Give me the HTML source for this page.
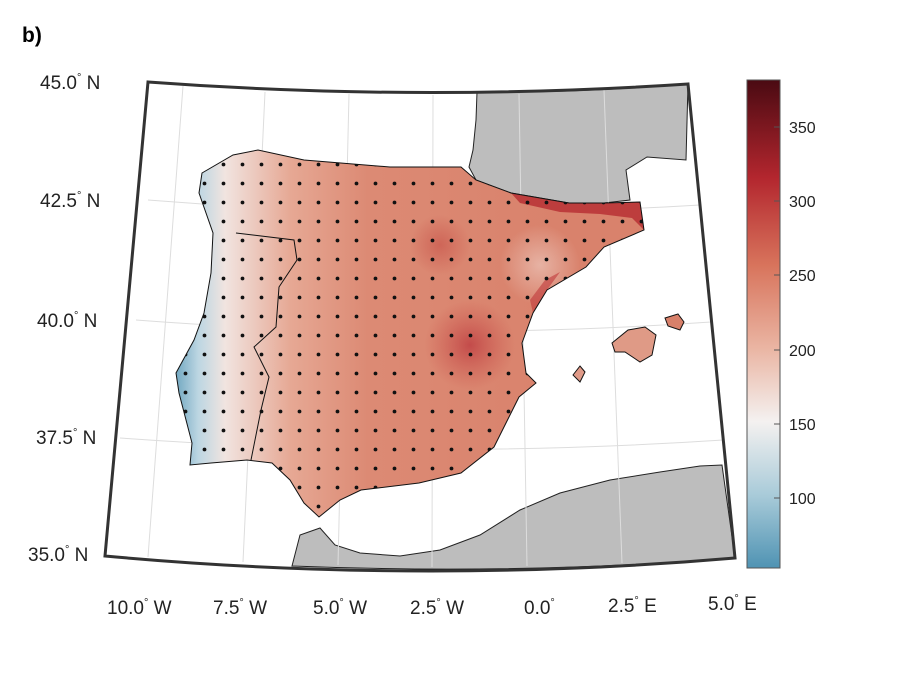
<!DOCTYPE html>
<html><head><meta charset="utf-8"><style>
html,body{margin:0;padding:0;background:#fff;}
svg{display:block;font-family:"Liberation Sans",Arial,sans-serif;}
</style></head><body>
<svg width="900" height="675" viewBox="0 0 900 675">
<defs>
<linearGradient id="cb" x1="0" y1="1" x2="0" y2="0">
<stop offset="0" stop-color="#4f93b3"/>
<stop offset="0.15" stop-color="#a9cbd9"/>
<stop offset="0.3" stop-color="#f4f1f0"/>
<stop offset="0.45" stop-color="#eab5a3"/>
<stop offset="0.62" stop-color="#d8745c"/>
<stop offset="0.8" stop-color="#b3262e"/>
<stop offset="1" stop-color="#4a0a12"/>
</linearGradient>
<linearGradient id="land" x1="175" y1="0" x2="560" y2="0" gradientUnits="userSpaceOnUse">
<stop offset="0" stop-color="#6fa6c0"/>
<stop offset="0.06" stop-color="#bcd6e2"/>
<stop offset="0.13" stop-color="#f1e4e0"/>
<stop offset="0.3" stop-color="#e6a894"/>
<stop offset="0.5" stop-color="#dc8a74"/>
<stop offset="1" stop-color="#d9826c"/>
</linearGradient>
<radialGradient id="hot" cx="470" cy="345" r="45" gradientUnits="userSpaceOnUse">
<stop offset="0" stop-color="#b9323a" stop-opacity="0.7"/>
<stop offset="1" stop-color="#c84a44" stop-opacity="0"/>
</radialGradient>
<radialGradient id="hot2" cx="440" cy="245" r="30" gradientUnits="userSpaceOnUse">
<stop offset="0" stop-color="#c2443e" stop-opacity="0.5"/>
<stop offset="1" stop-color="#c2443e" stop-opacity="0"/>
</radialGradient>
<radialGradient id="pale" cx="540" cy="265" r="40" gradientUnits="userSpaceOnUse">
<stop offset="0" stop-color="#f0d2c8" stop-opacity="0.6"/>
<stop offset="1" stop-color="#f0d2c8" stop-opacity="0"/>
</radialGradient>
<pattern id="dots" x="5" y="3" width="19" height="19" patternUnits="userSpaceOnUse">
<circle cx="9.5" cy="9.5" r="1.9" fill="#111"/>
</pattern>
<clipPath id="ib"><path id="ibp" d="M202,173 L233,155 L258,150 L304,160 L390,167 L461,167 L476,180 L511,193 L569,203 L604,203 L640,202 L644,230 L604,247 L586,267 L547,290 L533,313 L522,343 L526,373 L536,383 L519,397 L504,427 L494,447 L461,473 L419,483 L361,490 L340,500 L319,517 L304,503 L290,480 L272,463 L247,460 L211,463 L190,465 L192,443 L179,393 L176,373 L194,340 L204,313 L211,273 L213,233 L199,193 Z"/></clipPath>
</defs>
<text x="22" y="42" font-size="21" font-weight="bold">b)</text>
<path d="M148,82 Q418,102 688,84 L735,558 Q420,585 105,556 Z" fill="#fff"/>
<path d="M477,92 L476,120 L473,150 L469,167 L476,180 L511,193 L569,203 L604,203 L630,200 L626,170 L647,157 L686,160 L688,84 Q580,93 477,92 Z" fill="#bdbdbd" stroke="#222" stroke-width="1"/>
<path d="M292,566 L300,535 L320,528 L335,545 L360,553 L400,556 L440,550 L480,535 L520,510 L560,493 L610,480 L660,472 L700,466 L722,465 L735,558 Q520,575 292,566 Z" fill="#bdbdbd" stroke="#222" stroke-width="1"/>
<g stroke="#ddd" stroke-width="1" fill="none">
<path d="M148,200 Q420,222 700,205"/>
<path d="M136,320 Q420,342 711,322"/>
<path d="M120,438 Q420,460 723,440"/>
<line x1="183" y1="86" x2="148" y2="557"/>
<line x1="265" y1="92" x2="243" y2="562"/>
<line x1="349" y1="94" x2="338" y2="565"/>
<line x1="433" y1="95" x2="432" y2="567"/>
<line x1="519" y1="94" x2="527" y2="566"/>
<line x1="604" y1="90" x2="622" y2="563"/>
</g>
<g clip-path="url(#ib)">
<rect x="170" y="140" width="480" height="390" fill="url(#land)"/>
<rect x="170" y="140" width="480" height="390" fill="url(#pale)"/>
<rect x="170" y="140" width="480" height="390" fill="url(#hot)"/>
<rect x="170" y="140" width="480" height="390" fill="url(#hot2)"/>
<path d="M511,193 L569,203 L604,203 L640,202 L644,230 L632,218 L600,214 L560,212 L520,203 Z" fill="#b3262e" opacity="0.75"/>
<path d="M547,290 L533,313 L530,300 L545,280 L560,272 Z" fill="#c0383a" opacity="0.6"/>
<rect x="170" y="140" width="480" height="390" fill="url(#dots)"/>
</g>
<use href="#ibp" fill="none" stroke="#111" stroke-width="1"/>
<path d="M236,233 L294,240 L297,260 L279,287 L276,327 L254,347 L269,377 L261,410 L251,460" fill="none" stroke="#111" stroke-width="1"/>
<path d="M612,343 L628,330 L645,327 L656,335 L652,355 L640,362 L625,352 L615,352 Z" fill="#df9a86" stroke="#111" stroke-width="1"/>
<path d="M665,318 L678,314 L684,322 L680,330 L668,326 Z" fill="#d8806a" stroke="#111" stroke-width="1"/>
<path d="M573,375 L580,366 L585,372 L580,382 Z" fill="#e09a88" stroke="#111" stroke-width="1"/>
<path d="M148,82 Q418,102 688,84 L735,558 Q420,585 105,556 Z" fill="none" stroke="#333" stroke-width="3"/>
<g font-size="19" fill="#222">
<text x="40" y="89">45.0<tspan dy="-8" font-size="11">°</tspan><tspan dy="8"> N</tspan></text>
<text x="40" y="207">42.5<tspan dy="-8" font-size="11">°</tspan><tspan dy="8"> N</tspan></text>
<text x="37" y="327">40.0<tspan dy="-8" font-size="11">°</tspan><tspan dy="8"> N</tspan></text>
<text x="36" y="444">37.5<tspan dy="-8" font-size="11">°</tspan><tspan dy="8"> N</tspan></text>
<text x="28" y="561">35.0<tspan dy="-8" font-size="11">°</tspan><tspan dy="8"> N</tspan></text>
<text x="107" y="614">10.0<tspan dy="-8" font-size="11">°</tspan><tspan dy="8"> W</tspan></text>
<text x="213" y="614">7.5<tspan dy="-8" font-size="11">°</tspan><tspan dy="8"> W</tspan></text>
<text x="313" y="614">5.0<tspan dy="-8" font-size="11">°</tspan><tspan dy="8"> W</tspan></text>
<text x="410" y="614">2.5<tspan dy="-8" font-size="11">°</tspan><tspan dy="8"> W</tspan></text>
<text x="524" y="614">0.0<tspan dy="-8" font-size="11">°</tspan></text>
<text x="608" y="612">2.5<tspan dy="-8" font-size="11">°</tspan><tspan dy="8"> E</tspan></text>
<text x="708" y="610">5.0<tspan dy="-8" font-size="11">°</tspan><tspan dy="8"> E</tspan></text>
</g>
<rect x="747" y="80" width="33" height="488" fill="url(#cb)" stroke="#555" stroke-width="1"/>
<g stroke="#555" stroke-width="1">
<line x1="774" y1="127" x2="780" y2="127"/><line x1="774" y1="201" x2="780" y2="201"/>
<line x1="774" y1="275" x2="780" y2="275"/><line x1="774" y1="350" x2="780" y2="350"/>
<line x1="774" y1="424" x2="780" y2="424"/><line x1="774" y1="498" x2="780" y2="498"/>
</g>
<g font-size="16" fill="#222">
<text x="789" y="133">350</text><text x="789" y="207">300</text>
<text x="789" y="281">250</text><text x="789" y="356">200</text>
<text x="789" y="430">150</text><text x="789" y="504">100</text>
</g>
</svg>
</body></html>
